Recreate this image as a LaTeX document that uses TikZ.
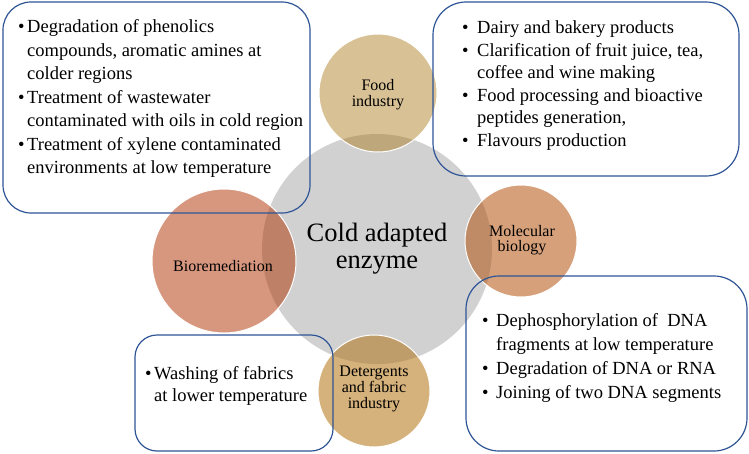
\documentclass[tikz,border=0pt]{standalone}
\usepackage{fontspec}
\setmainfont{Liberation Serif}
\definecolor{cgrey}{RGB}{209,209,209}
\definecolor{cfood}{RGB}{216,193,149}
\definecolor{cfoodov}{RGB}{190,167,122}
\definecolor{cbio}{RGB}{215,151,126}
\definecolor{cbioov}{RGB}{190,129,104}
\definecolor{cmol}{RGB}{213,160,122}
\definecolor{cmolov}{RGB}{190,139,102}
\definecolor{cdet}{RGB}{213,177,123}
\definecolor{cdetov}{RGB}{190,157,106}
\definecolor{cblue}{RGB}{47,85,151}
\newcommand\tstr[1]{\rule{0pt}{#1}}
\newcommand\bul[1]{\makebox[#1][l]{•}}
\tikzset{
  infobox/.style={draw=cblue, line width=1.2pt, rectangle, inner sep=0pt},
  outline/.style={circle, draw=white, line width=1pt, inner sep=0pt},
  boxtext/.style={anchor=north west, align=left, inner sep=0pt, text=black},
  circlabel/.style={align=center, inner sep=0pt, text=black, font=\fontsize{16}{15.5}\selectfont},
}
\begin{document}
\begin{tikzpicture}[x=1pt,y=-1pt]
\useasboundingbox (0,0) rectangle (749,453);
\fill[white] (0,0) rectangle (749,453);
% centres
\coordinate (cC) at (377,249);
\coordinate (cF) at (378,93);
\coordinate (cB) at (224,261);
\coordinate (cM) at (521,241);
\coordinate (cD) at (374,391);
% fills
\fill[cgrey] (cC) circle (115pt);
\fill[cfood] (cF) circle (59pt);
\fill[cbio] (cB) circle (72pt);
\fill[cmol] (cM) circle (56pt);
\fill[cdet] (cD) circle (56pt);
\begin{scope}
  \clip (cC) circle (115pt);
  \fill[cfoodov] (cF) circle (59pt);
  \fill[cbioov] (cB) circle (72pt);
  \fill[cmolov] (cM) circle (56pt);
  \fill[cdetov] (cD) circle (56pt);
\end{scope}
% outlined circle nodes
\node[outline, minimum size=118pt] (food) at (cF) {};
\node[outline, minimum size=144pt] (bio) at (cB) {};
\node[outline, minimum size=112pt] (mol) at (cM) {};
\node[outline, minimum size=112pt] (det) at (cD) {};
% labels
\node[align=center, inner sep=0pt, anchor=north, font=\fontsize{26.5}{27}\selectfont] (core) at (377,217.5) {\tstr{23.5pt}Cold adapted\\enzyme};
\node[circlabel, anchor=north] (foodlbl) at (378,76.3) {\tstr{14.4pt}Food\\industry};
\node[circlabel, anchor=base] (biolbl) at (223,271.7) {Bioremediation};
\node[circlabel, anchor=north, font=\fontsize{16}{15}\selectfont] (mollbl) at (522,222.3) {\tstr{14.4pt}Molecular\\biology};
\node[circlabel, anchor=north, font=\fontsize{16}{15.7}\selectfont] (detlbl) at (374,362.3) {\tstr{14.4pt}Detergents\\and fabric\\industry};
% boxes
\node[infobox, rounded corners=28pt, minimum width=307pt, minimum height=211pt] (boxTL) at (156.5,107.5) {};
\node[infobox, rounded corners=33pt, minimum width=306pt, minimum height=174pt] (boxTR) at (586,89) {};
\node[infobox, rounded corners=22pt, minimum width=198pt, minimum height=116pt] (boxBL) at (234,393) {};
\node[infobox, rounded corners=33pt, minimum width=281pt, minimum height=175pt] (boxBR) at (606.5,363.5) {};
% box texts
\node[boxtext, font=\fontsize{18.5}{23.5}\selectfont] (txtTL) at (18,16.1) {%
\tstr{16.6pt}\bul{9pt}Degradation of phenolics\\
\hspace*{9pt}compounds, aromatic amines at\\
\hspace*{9pt}colder regions\\
\bul{9pt}Treatment of wastewater\\
\hspace*{9pt}contaminated with oils in cold region\\
\bul{9pt}Treatment of xylene contaminated\\
\hspace*{9pt}environments at low temperature};
\node[boxtext, font=\fontsize{18.5}{22.5}\selectfont] (txtTR) at (462,16.7) {%
\tstr{16.6pt}\bul{15pt}Dairy and bakery products\\
\bul{15pt}Clarification of fruit juice, tea,\\
\hspace*{15pt}coffee and wine making\\
\bul{15pt}Food processing and bioactive\\
\hspace*{15pt}peptides generation,\\
\bul{15pt}Flavours production};
\node[boxtext, font=\fontsize{18.5}{23.7}\selectfont] (txtBR) at (482,310.1) {%
\tstr{16.6pt}\bul{14pt}Dephosphorylation of \ DNA\\
\hspace*{14pt}fragments at low temperature\\
\bul{14pt}Degradation of DNA or RNA\\
\bul{14pt}Joining of two DNA segments};
\node[boxtext, font=\fontsize{18.5}{22.7}\selectfont] (txtBL) at (145,362.4) {%
\tstr{16.6pt}\bul{9pt}Washing of fabrics\\
\hspace*{9pt}at lower temperature};
\end{tikzpicture}
\end{document}
